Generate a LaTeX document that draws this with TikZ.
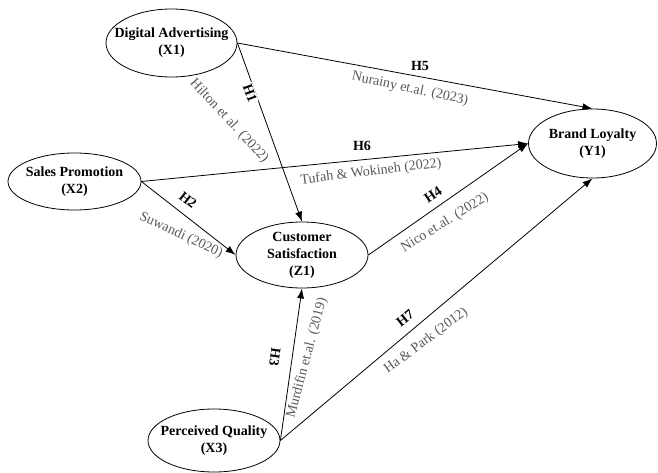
\documentclass[tikz,border=0pt]{standalone}
\usepackage{fontspec}
\setmainfont{Liberation Serif}
\usetikzlibrary{shapes.geometric,arrows.meta}

\begin{document}
\begin{tikzpicture}[
   x=1pt, y=-1pt,
   font=\fontsize{14}{17}\selectfont,
   var/.style={draw,ellipse,inner sep=0pt,line width=0.8pt},
   varlabel/.style={align=center,font=\fontsize{14}{17}\selectfont\bfseries},
   effect/.style={draw,line width=0.8pt,-{Latex[length=10pt,width=7pt]}},
   hyp/.style={font=\fontsize{14}{17}\selectfont\bfseries,inner sep=1pt},
   src/.style={text=black!65,inner sep=1pt}]

\useasboundingbox (0,0) rectangle (658,473);

\node[var,minimum width=131pt,minimum height=68pt,
      label={[varlabel]center:Digital Advertising\\(X1)}] (X1) at (171.5,43) {};
\node[var,minimum width=133pt,minimum height=57pt,
      label={[varlabel]center:Sales Promotion\\(X2)}] (X2) at (74.5,181.5) {};
\node[var,minimum width=132pt,minimum height=63pt,
      label={[varlabel]center:Perceived Quality\\(X3)}] (X3) at (214,440.5) {};
\node[var,minimum width=132pt,minimum height=66pt,
      label={[varlabel]center:Customer\\Satisfaction\\(Z1)}] (Z1) at (302,255) {};
\node[var,minimum width=128pt,minimum height=69pt,
      label={[varlabel]center:Brand Loyalty\\(Y1)}] (Y1) at (592.5,143.5) {};

\draw[effect] (X1.east) -- (Z1.north);
\draw[effect] (X1.east) -- (Y1.north);
\draw[effect] (X2.east) -- (Y1.west);
\draw[effect] (X2.east) -- (Z1.west);
\draw[effect] (Z1.east) -- (Y1.west);
\draw[effect] (X3.east) -- (Z1.south);
\draw[effect] (X3.east) -- (Y1.south);

\node[hyp,fill=white,rotate=-70] (h1) at (250,93) {H1};
\node[src,rotate=-47] (r1) at (229,121) {Hilton et al. (2022)};
\node[hyp] (h5) at (420,66) {H5};
\node[src,rotate=-12] (r5) at (410,89) {Nurainy et.al. (2023)};
\node[hyp] (h6) at (362,146) {H6};
\node[src,rotate=7] (r6) at (371,172) {Tufah \& Wokineh (2022)};
\node[hyp,rotate=-38] (h2) at (188,200) {H2};
\node[src,rotate=-25] (r2) at (181,235) {Suwandi (2020)};
\node[hyp,rotate=34] (h4) at (433,195) {H4};
\node[src,rotate=32] (r4) at (445,223) {Nico et.al. (2022)};
\node[hyp,rotate=-98] (h3) at (275,357) {H3};
\node[src,rotate=75] (r3) at (307,358) {Murdifin et.al. (2019)};
\node[hyp,rotate=38] (h7) at (405,318) {H7};
\node[src,rotate=37] (r7) at (426,341) {Ha \& Park (2012)};

\end{tikzpicture}
\end{document}
